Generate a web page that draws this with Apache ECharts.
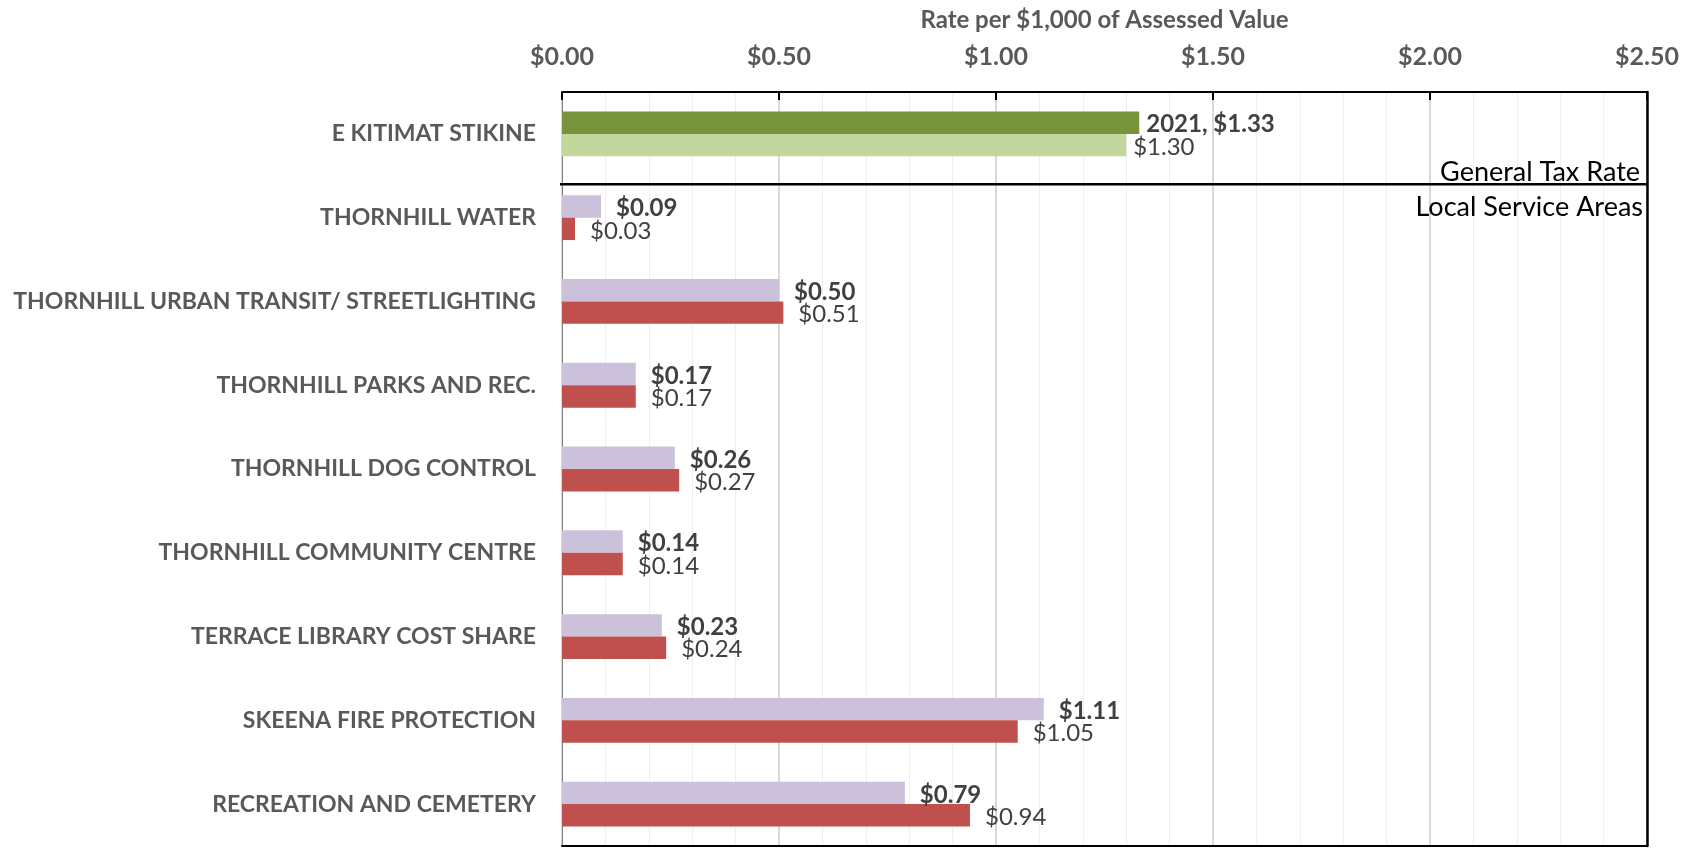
<!DOCTYPE html>
<html>
<head>
<meta charset="utf-8">
<script src="https://cdn.jsdelivr.net/npm/echarts@6/dist/echarts.min.js"></script>
<style>
  html, body { margin: 0; padding: 0; background: #fff; }
  #chart { width: 1691px; height: 850px; }
</style>
</head>
<body>
<div id="chart"></div>
<script>
// categories, top to bottom
var categories = [
    'E KITIMAT STIKINE',
    'THORNHILL WATER',
    'THORNHILL URBAN TRANSIT/ STREETLIGHTING',
    'THORNHILL PARKS AND REC.',
    'THORNHILL DOG CONTROL',
    'THORNHILL COMMUNITY CENTRE',
    'TERRACE LIBRARY COST SHARE',
    'SKEENA FIRE PROTECTION',
    'RECREATION AND CEMETERY'
];
var years = ['2021', '2020'];
var rates2021 = [1.33, 0.09, 0.50, 0.17, 0.26, 0.14, 0.23, 1.11, 0.79];
var rates2020 = [1.30, 0.03, 0.51, 0.17, 0.27, 0.14, 0.24, 1.05, 0.94];
var sectionLabels = ['General Tax Rate', 'Local Service Areas'];

var font = 'Lato';
var xMin = 0, xMax = 2.5;

//first row is the general rate: greens, label sits closer to the bar
function toData(values, generalColor, otherColor) {
    var out = [];
    for (var i = 0; i < values.length; i++) {
        var d = { value: values[i], itemStyle: { color: i === 0 ? generalColor : otherColor } };
        if (i === 0) d.label = { distance: 7 };
        out.push(d);
    }
    return out;
}

function money(v) {
    return '$' + v.toFixed(2);
}

var chart = echarts.init(document.getElementById('chart'));
chart.setOption({
    animation: false,
    textStyle: { fontFamily: font },
    grid: {
        left: 562, right: 44, top: 92, bottom: 4,
        containLabel: false,
        outerBoundsMode: 'none'
    },
    xAxis: [
        {
            type: 'value',
            position: 'top',
            min: xMin, max: xMax, interval: 0.5,
            name: 'Rate per $1,000 of Assessed Value',
            nameLocation: 'middle',
            nameGap: 60,
            nameTextStyle: { fontFamily: font, fontSize: 24, fontWeight: 'bold', color: '#595959' },
            axisLine: { show: true, lineStyle: { color: '#000', width: 2 } },
            axisTick: { show: true, inside: true, length: 8, lineStyle: { color: '#000', width: 2 } },
            axisLabel: {
                margin: 23, fontFamily: font, fontSize: 25, fontWeight: 'bold', color: '#595959',
                formatter: function (v) { return money(v); }
            },
            splitLine: { show: true, lineStyle: { color: '#D9D9D9', width: 2 } },
            minorTick: { show: false, splitNumber: 5 },
            minorSplitLine: { show: true, lineStyle: { color: '#EFEFEF', width: 1 } }
        },
        {
            // bottom border of the plot
            type: 'value',
            position: 'bottom',
            min: xMin, max: xMax,
            axisLine: { show: true, onZero: false, lineStyle: { color: '#000', width: 2 } },
            axisTick: { show: false },
            axisLabel: { show: false },
            splitLine: { show: false }
        }
    ],
    yAxis: [
        {
            type: 'category',
            inverse: true,
            data: categories,
            axisLine: { show: true, lineStyle: { color: '#808080', width: 1 } },
            axisTick: { show: false },
            axisLabel: {
                margin: 26, padding: [4, 0, 0, 0],
                fontFamily: font, fontSize: 23, fontWeight: 'bold', color: '#595959'
            }
        },
        {
            // right border of the plot
            type: 'category',
            position: 'right',
            inverse: true,
            data: categories,
            axisLine: { show: true, onZero: false, lineStyle: { color: '#000', width: 2.5 } },
            axisTick: { show: false },
            axisLabel: { show: false },
            splitLine: { show: false }
        }
    ],
    series: [
        {
            name: years[0],
            type: 'bar',
            barGap: '0%',
            barCategoryGap: '46.5%',
            data: toData(rates2021, '#77933C', '#CCC1DA'),
            label: {
                show: true, position: 'right', distance: 15, offset: [0, 2],
                fontFamily: font, fontSize: 24, fontWeight: 'bold', color: '#404040',
                formatter: function (p) {
                    return (p.dataIndex === 0 ? years[0] + ', ' : '') + money(p.value);
                }
            }
        },
        {
            name: years[1],
            type: 'bar',
            barGap: '0%',
            barCategoryGap: '46.5%',
            data: toData(rates2020, '#C3D69B', '#C0504D'),
            label: {
                show: true, position: 'right', distance: 15, offset: [0, 2],
                fontFamily: font, fontSize: 24, color: '#404040',
                formatter: function (p) { return money(p.value); }
            }
        }
    ]
});

//divider between the general rate and the local service areas
var yA = chart.convertToPixel({ yAxisIndex: 0 }, categories[0]);
var yB = chart.convertToPixel({ yAxisIndex: 0 }, categories[1]);
var yLine = yA + (yB - yA) * 0.6;
var xL = chart.convertToPixel({ xAxisIndex: 0 }, xMin);
var xR = chart.convertToPixel({ xAxisIndex: 0 }, xMax);
chart.setOption({
    graphic: [
        {
            type: 'line', z: 100,
            shape: { x1: xL - 2, y1: yLine, x2: xR, y2: yLine },
            style: { stroke: '#000', lineWidth: 2.5 }
        },
        {
            type: 'text', z: 100,
            style: {
                text: sectionLabels[0], x: xR - 7, y: yLine + 2,
                align: 'right', verticalAlign: 'bottom',
                font: '27px ' + font, fill: '#000'
            }
        },
        {
            type: 'text', z: 100,
            style: {
                text: sectionLabels[1], x: xR - 4, y: yLine + 10,
                align: 'right', verticalAlign: 'top',
                font: '27px ' + font, fill: '#000'
            }
        }
    ]
});
</script>
</body>
</html>
